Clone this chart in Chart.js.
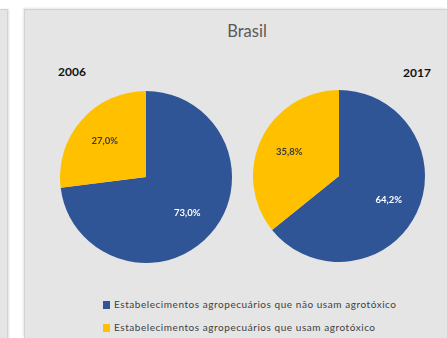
<!DOCTYPE html>
<html lang="pt-BR">
<head>
<meta charset="utf-8">
<title>Brasil</title>
<script src="https://cdn.jsdelivr.net/npm/chart.js@4"></script>
<style>
  html { overflow: hidden; }
  html, body { margin: 0; padding: 0; }
  body { width: 447px; height: 338px; position: relative; background: #ffffff; font-family: Lato, "Open Sans", sans-serif; }
  .side { position: absolute; left: 0; top: 9px; width: 7px; height: 329px; background: #e5e5e5; border-right: 1px solid #d2d2d2; border-top: 1px solid #d2d2d2; box-shadow: 1px 0 2px rgba(0,0,0,0.12); }
  .panel { position: absolute; left: 24px; top: 9px; width: 423px; height: 329px; background: #e5e5e5; border-left: 1px solid #d2d2d2; border-top: 1px solid #d2d2d2; box-sizing: border-box; box-shadow: -1px -1px 2px rgba(0,0,0,0.10); }
  .title { position: absolute; left: 147px; width: 200px; top: 21px; text-align: center; font-size: 16.5px; color: #595959; }
  .year { position: absolute; font-size: 12px; font-weight: bold; color: #111; }
  canvas { position: absolute; }
  .legend { position: absolute; left: 103px; font-size: 10px; letter-spacing: 0.55px; color: #404040; white-space: nowrap; }
  .legend span.box { display: inline-block; width: 7px; height: 8px; margin-right: 4px; vertical-align: -1px; }
</style>
</head>
<body>
<div class="side"></div>
<div class="panel"></div>
<div class="title" id="title"></div>
<div class="year" id="y0" style="left:58px; top:64px;"></div>
<div class="year" id="y1" style="left:403px; top:65px;"></div>
<canvas id="pie0" width="172" height="172" style="left:60px; top:91px;"></canvas>
<canvas id="pie1" width="172" height="172" style="left:253px; top:90px;"></canvas>
<div class="legend" id="lg0" style="top:298px;"></div>
<div class="legend" id="lg1" style="top:321px;"></div>
<script>
// Share of farms by pesticide use, census years 2006 and 2017
const chartTitle = "Brasil";
const years = ["2006", "2017"];
const categories = [
  "Estabelecimentos agropecuários que não usam agrotóxico",
  "Estabelecimentos agropecuários que usam agrotóxico"
];
const values2006 = [73.0, 27.0];
const values2017 = [64.2, 35.8];
const sliceColors = ["#2F5597", "#FFC000"];
const labelColors = ["#ffffff", "#3a3a3a"];

document.getElementById("title").textContent = chartTitle;
document.getElementById("y0").textContent = years[0];
document.getElementById("y1").textContent = years[1];

categories.forEach((name, i) => {
  const el = document.getElementById("lg" + i);
  const box = document.createElement("span");
  box.className = "box";
  box.style.background = sliceColors[i];
  el.appendChild(box);
  el.appendChild(document.createTextNode(name));
});

// Percentage labels written inside each slice
const sliceLabels = {
  id: "sliceLabels",
  afterDatasetsDraw(chart) {
    const ctx = chart.ctx;
    const meta = chart.getDatasetMeta(0);
    const data = chart.data.datasets[0].data;
    ctx.save();
    ctx.font = "bold 9.5px Lato, 'Open Sans', sans-serif";
    ctx.textAlign = "center";
    ctx.textBaseline = "middle";
    meta.data.forEach((arc, i) => {
      const p = arc.getProps(["x", "y", "startAngle", "endAngle", "outerRadius"], true);
      const mid = (p.startAngle + p.endAngle) / 2;
      const r = p.outerRadius * 0.64;
      ctx.fillStyle = labelColors[i];
      ctx.fillText(data[i].toFixed(1).replace(".", ",") + "%", p.x + Math.cos(mid) * r, p.y + Math.sin(mid) * r);
    });
    ctx.restore();
  }
};

function makePie(id, values) {
  return new Chart(document.getElementById(id), {
    type: "pie",
    data: {
      labels: categories,
      datasets: [{ data: values, backgroundColor: sliceColors, borderWidth: 0 }]
    },
    options: {
      responsive: false,
      animation: false,
      devicePixelRatio: 1,
      layout: { padding: 0 },
      plugins: { legend: { display: false }, tooltip: { enabled: false }, title: { display: false } }
    },
    plugins: [sliceLabels]
  });
}

makePie("pie0", values2006);
makePie("pie1", values2017);
</script>
</body>
</html>
